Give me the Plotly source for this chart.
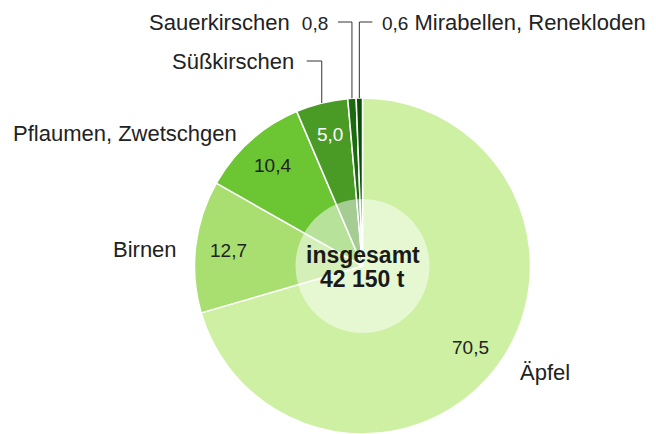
import math
import plotly.graph_objects as go

# ---------------- data ----------------
categories = ["Äpfel", "Birnen", "Pflaumen, Zwetschgen", "Süßkirschen",
              "Sauerkirschen", "Mirabellen, Renekloden"]
shares = [70.5, 12.7, 10.4, 5.0, 0.8, 0.6]
total_tonnes = 42150
total_label = "insgesamt"

# ---------------- style ----------------
colors = ["#cdf0a3", "#a8df70", "#6cc532", "#4a9a26", "#1b6b0e", "#0b4f08"]
value_colors = ["#222222", "#222222", "#222222", "#ffffff", "#222222", "#222222"]
OFF = 8                      # page body margin of the browser
W, H = 656 - OFF, 434 - OFF  # figure size that fits the window
CX, CY, R = 362.5 - OFF, 266.0 - OFF, 168.0
R_INNER = 67.0
FONT = "Liberation Sans, Arial, sans-serif"
TXT = "#222222"
NAME_SIZE = 22
NUM_SIZE = 19


def fmt(v):
    return f"{v:.1f}".replace(".", ",")


def fmt_total(v):
    s = f"{v:,}".replace(",", " ")
    return f"{s} t"


def px(x):
    return x / W


def py(y):
    return (H - y) / H


def polar(angle_deg, r):
    a = math.radians(angle_deg)
    return CX + r * math.sin(a), CY - r * math.cos(a)


# cumulative angles (clockwise from 12 o'clock)
tot = sum(shares)
mids = []
acc = 0.0
for s in shares:
    ang = s / tot * 360.0
    mids.append(acc + ang / 2)
    acc += ang

y_lo = max(0.0, py(CY + R))
fig = go.Figure(go.Pie(
    labels=categories,
    values=shares,
    sort=False,
    direction="clockwise",
    rotation=0,
    textinfo="none",
    hoverinfo="label+value",
    marker=dict(colors=colors, line=dict(color="#ffffff", width=1.5)),
    domain=dict(x=[px(CX - R), px(CX + R)], y=[y_lo, py(CY - R)]),
    showlegend=False,
))

annotations = []
shapes = []

# inner translucent circle
shapes.append(dict(type="circle", xref="paper", yref="paper",
                   x0=px(CX - R_INNER), x1=px(CX + R_INNER),
                   y0=py(CY + R_INNER), y1=py(CY - R_INNER),
                   fillcolor="rgba(255,255,255,0.5)", line=dict(width=0),
                   layer="above"))

# center text
annotations.append(dict(x=px(CX), y=py(CY - 11), xref="paper", yref="paper",
                        text=f"<b>{total_label}</b>", showarrow=False,
                        font=dict(family=FONT, size=23, color="#1a1a1a"),
                        xanchor="center", yanchor="middle"))
annotations.append(dict(x=px(CX), y=py(CY + 13), xref="paper", yref="paper",
                        text=f"<b>{fmt_total(total_tonnes)}</b>", showarrow=False,
                        font=dict(family=FONT, size=23, color="#1a1a1a"),
                        xanchor="center", yanchor="middle"))

for i, (cat, s, m) in enumerate(zip(categories, shares, mids)):
    if s >= 2:
        vx, vy = polar(m, 0.805 * R)
        annotations.append(dict(x=px(vx), y=py(vy), xref="paper", yref="paper",
                                text=fmt(s), showarrow=False,
                                font=dict(family=FONT, size=NUM_SIZE, color=value_colors[i]),
                                xanchor="center", yanchor="middle"))
    if s >= 10:
        nx, ny = polar(m, 1.1 * R)
        right = math.sin(math.radians(m)) > 0
        annotations.append(dict(x=px(nx), y=py(ny), xref="paper", yref="paper",
                                text=cat, showarrow=False,
                                xshift=8 if right else 0,
                                yshift=4 if right else -5,
                                font=dict(family=FONT, size=NAME_SIZE, color=TXT),
                                xanchor="left" if right else "right", yanchor="middle"))

# leader lines for small slices
leader_y = {3: 61 - OFF, 4: 22 - OFF, 5: 22 - OFF}
leader_dx = {3: -15, 4: -14, 5: 13}
GAP = {3: 11, 4: 8, 5: 8}
for i in (3, 4, 5):
    ex, ey = polar(mids[i], R)
    ly = leader_y[i]
    hx = ex + leader_dx[i]
    shapes.append(dict(type="path", xref="paper", yref="paper",
                       path=f"M {px(ex)} {py(ey)} L {px(ex)} {py(ly)} L {px(hx)} {py(ly)}",
                       line=dict(color="#333333", width=1)))
    if i == 3:
        text = categories[i]
    elif i == 4:
        text = f"{categories[i]}\u00a0\u00a0<span style='font-size:{NUM_SIZE}px'>{fmt(shares[i])}</span>"
    else:
        text = f"<span style='font-size:{NUM_SIZE}px'>{fmt(shares[i])}</span>\u00a0{categories[i]}"
    left = leader_dx[i] > 0
    tx = hx + GAP[i] if left else hx - GAP[i]
    annotations.append(dict(x=px(tx), y=py(ly), xref="paper", yref="paper",
                            text=text, showarrow=False,
                            font=dict(family=FONT, size=NAME_SIZE, color=TXT),
                            xanchor="left" if left else "right", yanchor="middle"))

fig.update_layout(
    width=W, height=H,
    margin=dict(l=0, r=0, t=0, b=0),
    paper_bgcolor="#ffffff",
    plot_bgcolor="#ffffff",
    annotations=annotations,
    shapes=shapes,
)

fig.write_html("out.html")
